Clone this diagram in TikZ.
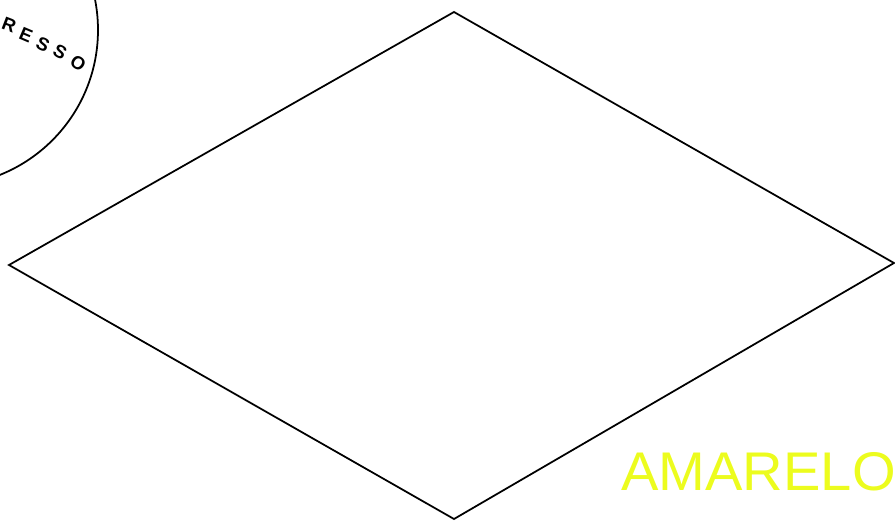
\documentclass[tikz,border=0pt]{standalone}
\usepackage{fontspec}
\setmainfont{Liberation Sans}
\usepackage{tikz}
\definecolor{amarelo}{RGB}{236,252,30}

\begin{document}
\begin{tikzpicture}[
  x=0.02cm, y=-0.02cm,
  ln/.style={draw, line width=1pt, line join=miter},
  lt/.style={font=\fontsize{10.5}{10.5}\selectfont\bfseries, inner sep=0pt},
  big/.style={font=\fontsize{31}{31}\selectfont, text=amarelo, inner sep=0pt, anchor=base west, xscale=1.03},
]
  \useasboundingbox (0,0) rectangle (895,521);
  % circle at the top left
  \coordinate (c) at (-58,30);
  \draw[ln] (c) circle[radius=156];
  \foreach \ch/\px/\py/\ang [count=\i] in {R/9/25/-21, E/26/35/-23, S/43/44/-26, S/60/52/-29, O/78/63/-34}
    \node[lt, rotate=\ang] (l\i) at (\px,\py) {\ch};
  % the diamond
  \coordinate (t) at (454,12);
  \coordinate (r) at (894,263);
  \coordinate (b) at (454,519);
  \coordinate (w) at (9,265);
  \draw[ln] (t) -- (r) -- (b) -- (w) -- cycle;
  \node[big] (am) at (621,490) {AMARELO};
\end{tikzpicture}
\end{document}
